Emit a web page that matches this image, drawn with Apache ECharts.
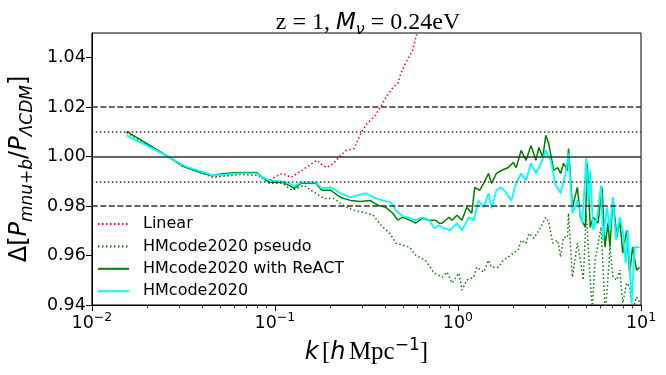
<!DOCTYPE html>
<html>
<head>
<meta charset="utf-8">
<script src="https://cdn.jsdelivr.net/npm/echarts@6/dist/echarts.min.js"></script>
<style>
  html, body { margin: 0; padding: 0; background: #fff; }
  #chart { width: 666px; height: 375px; }
</style>
</head>
<body>
<div id="chart"></div>
<script>
// k [h/Mpc], ratio
const linearK = [0.0155, 0.0260, 0.0317, 0.0392, 0.0460, 0.0644, 0.0795, 0.0856, 0.0934, 0.0994, 0.1097, 0.1227, 0.1324, 0.1535, 0.1695, 0.1804, 0.1919, 0.2093, 0.2283, 0.2459, 0.2716, 0.2784, 0.2962, 0.3153, 0.3527, 0.3752, 0.4042, 0.4407, 0.4690, 0.4867, 0.5179, 0.5649, 0.5937, 0.6087]
const linearV = [1.0098, 1.0001, 0.9960, 0.9936, 0.9916, 0.9928, 0.9924, 0.9912, 0.9904, 0.9916, 0.9932, 0.9916, 0.9932, 0.9964, 0.9985, 0.9968, 0.9956, 0.9973, 1.0005, 1.0025, 1.0033, 1.0053, 1.0098, 1.0130, 1.0166, 1.0198, 1.0239, 1.0279, 1.0295, 1.0335, 1.0380, 1.0428, 1.0493, 1.0530]

const pseudoK = [0.0155, 0.0260, 0.0317, 0.0392, 0.0460, 0.0644, 0.0795, 0.0856, 0.0934, 0.1097, 0.1243, 0.1442, 0.1633, 0.1849, 0.2093, 0.2369, 0.2683, 0.3038, 0.3440, 0.3894, 0.4248, 0.4575, 0.4990, 0.5442, 0.5864, 0.6639, 0.7427, 0.8199, 0.8723, 0.9283, 1.0125, 1.0509, 1.1182, 1.2197, 1.2660, 1.3809, 1.4694, 1.5251, 1.6636, 1.7703, 1.8835, 2.0044, 2.1325, 2.2131, 2.3552, 2.4444, 2.6013, 2.7677, 2.9085, 3.0190, 3.1334, 3.2929, 3.5042, 3.6372, 3.7750, 3.9673, 4.0169, 4.2218, 4.4918, 4.6620, 4.8389, 5.0228, 5.1490, 5.4108, 5.6161, 6.0484, 6.2004, 6.3592, 6.5189, 6.7660, 7.0224, 7.3806, 7.6564, 7.9481, 8.3562, 8.6701, 8.9989, 9.4570, 9.8155]
const pseudoV = [1.0098, 1.0001, 0.9960, 0.9936, 0.9920, 0.9932, 0.9932, 0.9912, 0.9892, 0.9892, 0.9864, 0.9884, 0.9856, 0.9831, 0.9831, 0.9803, 0.9783, 0.9775, 0.9763, 0.9714, 0.9690, 0.9650, 0.9642, 0.9634, 0.9602, 0.9581, 0.9529, 0.9513, 0.9533, 0.9489, 0.9529, 0.9460, 0.9501, 0.9513, 0.9553, 0.9533, 0.9581, 0.9553, 0.9553, 0.9581, 0.9594, 0.9610, 0.9622, 0.9662, 0.9650, 0.9690, 0.9670, 0.9702, 0.9731, 0.9755, 0.9735, 0.9650, 0.9662, 0.9594, 0.9674, 0.9674, 0.9771, 0.9513, 0.9650, 0.9581, 0.9501, 0.9771, 0.9634, 0.9380, 0.9581, 0.9714, 0.9553, 0.9380, 0.9448, 0.9634, 0.9513, 0.9501, 0.9541, 0.9408, 0.9489, 0.9473, 0.9380, 0.9432, 0.9412]

const reactK = [0.0155, 0.0260, 0.0317, 0.0392, 0.0460, 0.0521, 0.0644, 0.0795, 0.0856, 0.0934, 0.1097, 0.1197, 0.1274, 0.1390, 0.1497, 0.1674, 0.1804, 0.2016, 0.2283, 0.2585, 0.2926, 0.3314, 0.3660, 0.4042, 0.4407, 0.4690, 0.4990, 0.5442, 0.5864, 0.6396, 0.6977, 0.7519, 0.7903, 0.8199, 0.8942, 0.9283, 0.9877, 1.0509, 1.1182, 1.1898, 1.2349, 1.3140, 1.3809, 1.4694, 1.5251, 1.6229, 1.7268, 1.8835, 2.0044, 2.0802, 2.2131, 2.3552, 2.5059, 2.6666, 2.7677, 2.9085, 3.0190, 3.1334, 3.3340, 3.5042, 3.6372, 3.7750, 3.9673, 4.0169, 4.2218, 4.4918, 4.6620, 4.9609, 5.0855, 5.2780, 5.4783, 5.8295, 6.1239, 6.3592, 6.6003, 6.7660, 7.0224, 7.3806, 7.6564, 7.9481, 8.3562, 8.6701, 8.9989, 9.4570, 9.8155]
const reactV = [1.0102, 1.0001, 0.9960, 0.9936, 0.9924, 0.9932, 0.9936, 0.9936, 0.9916, 0.9896, 0.9896, 0.9884, 0.9872, 0.9892, 0.9892, 0.9892, 0.9864, 0.9864, 0.9835, 0.9823, 0.9819, 0.9823, 0.9803, 0.9795, 0.9771, 0.9743, 0.9755, 0.9743, 0.9731, 0.9751, 0.9743, 0.9743, 0.9731, 0.9731, 0.9755, 0.9743, 0.9763, 0.9743, 0.9795, 0.9771, 0.9876, 0.9864, 0.9892, 0.9932, 0.9892, 0.9932, 0.9944, 0.9956, 0.9977, 0.9956, 1.0025, 0.9985, 1.0045, 0.9985, 1.0037, 0.9997, 1.0086, 1.0053, 0.9944, 0.9956, 0.9932, 0.9973, 0.9944, 1.0033, 0.9795, 0.9876, 0.9755, 0.9714, 0.9973, 0.9714, 0.9755, 0.9731, 0.9876, 0.9634, 0.9731, 0.9634, 0.9835, 0.9674, 0.9743, 0.9610, 0.9702, 0.9529, 0.9634, 0.9541, 0.9553]

const hmK = [0.0155, 0.0260, 0.0317, 0.0392, 0.0460, 0.0644, 0.0795, 0.0856, 0.0934, 0.1097, 0.1197, 0.1274, 0.1390, 0.1497, 0.1674, 0.1804, 0.2016, 0.2283, 0.2585, 0.2854, 0.3153, 0.3571, 0.3894, 0.4301, 0.4575, 0.4990, 0.5442, 0.5864, 0.6396, 0.6977, 0.7427, 0.7903, 0.8199, 0.9057, 0.9877, 1.0509, 1.1464, 1.2197, 1.2978, 1.3809, 1.4694, 1.5251, 1.6229, 1.7268, 1.8374, 1.9552, 2.0802, 2.2131, 2.3552, 2.5059, 2.6666, 2.8374, 3.0190, 3.2122, 3.4181, 3.6372, 3.8699, 4.0169, 4.2218, 4.4918, 4.7792, 5.0228, 5.1490, 5.2780, 5.4783, 5.7577, 6.0484, 6.2004, 6.5189, 6.7660, 7.0224, 7.2895, 7.6564, 7.9481, 8.2531, 8.4606, 8.8879, 9.2250, 9.8155]
const hmV = [1.0086, 1.0001, 0.9964, 0.9940, 0.9924, 0.9932, 0.9932, 0.9916, 0.9904, 0.9900, 0.9892, 0.9880, 0.9896, 0.9896, 0.9896, 0.9872, 0.9876, 0.9852, 0.9835, 0.9844, 0.9852, 0.9831, 0.9823, 0.9815, 0.9783, 0.9759, 0.9751, 0.9743, 0.9755, 0.9743, 0.9710, 0.9723, 0.9714, 0.9702, 0.9731, 0.9702, 0.9755, 0.9743, 0.9823, 0.9795, 0.9852, 0.9791, 0.9864, 0.9876, 0.9852, 0.9823, 0.9892, 0.9932, 0.9904, 0.9973, 0.9932, 0.9973, 1.0025, 0.9985, 0.9884, 0.9852, 0.9932, 1.0013, 0.9771, 0.9823, 0.9731, 0.9993, 0.9811, 0.9944, 0.9702, 0.9755, 0.9884, 0.9662, 0.9795, 0.9702, 0.9835, 0.9662, 0.9755, 0.9702, 0.9569, 0.9702, 0.9408, 0.9634, 0.9634]

const yTicks = [0.94, 0.96, 0.98, 1.00, 1.02, 1.04]
const minorX = [0.02, 0.03, 0.04, 0.05, 0.06, 0.07, 0.08, 0.09, 0.2, 0.3, 0.4, 0.5, 0.6, 0.7, 0.8, 0.9, 2, 3, 4, 5, 6, 7, 8, 9]
const refLines = [
  { v: 1.02, type: [6, 2.5] },
  { v: 1.01, type: [1.5, 2.5] },
  { v: 1.00, type: 'solid' },
  { v: 0.99, type: [1.5, 2.5] },
  { v: 0.98, type: [6, 2.5] },
]

const zip = (ks, vs) => ks.map((k, i) => [k, vs[i]])
const sans = 'DejaVu Sans'
const serif = 'Liberation Serif'

const chart = echarts.init(document.getElementById('chart'), null, { renderer: 'canvas' })

const line = (name, ks, vs, color, type, width) => ({
  name,
  type: 'line',
  data: zip(ks, vs),
  showSymbol: false,
  symbol: 'none',
  clip: true,
  animation: false,
  lineStyle: { color, type, width, cap: 'butt' },
  itemStyle: { color },
})

const refSeries = {
  type: 'line',
  data: [],
  silent: true,
  animation: false,
  markLine: {
    silent: true,
    symbol: 'none',
    animation: false,
    label: { show: false },
    data: refLines.map((r) => ({
      yAxis: r.v,
      lineStyle: { color: '#333', type: r.type, width: 1.5 },
    })),
  },
}

const option = {
  backgroundColor: '#fff',
  animation: false,
  title: {
    text: '{r|z = 1, }{i|M}{s|ν}{r| = 0.24eV}',
    left: 363,
    textAlign: 'center',
    top: 3,
    textStyle: {
      fontWeight: 'normal',
      rich: {
        r: { fontFamily: serif, fontWeight: 'normal', fontSize: 24, color: '#000', lineHeight: 30 },
        i: { fontFamily: sans, fontWeight: 'normal', fontStyle: 'italic', fontSize: 23, color: '#000', lineHeight: 30 },
        s: { fontFamily: sans, fontWeight: 'normal', fontStyle: 'italic', fontSize: 16, color: '#000', verticalAlign: 'bottom', lineHeight: 22, padding: [8, 0, 0, 0] },
      },
    },
  },
  grid: { left: 85, right: 25, top: 33, bottom: 70, show: true, borderColor: '#000', borderWidth: 1, backgroundColor: 'transparent' },
  legend: {
    orient: 'vertical',
    left: 92,
    top: 211,
    itemWidth: 31,
    itemHeight: 14,
    itemGap: 6.4,
    itemStyle: { opacity: 0 },
    data: ['Linear', 'HMcode2020 pseudo', 'HMcode2020 with ReACT', 'HMcode2020'],
    textStyle: { fontFamily: sans, fontSize: 16, lineHeight: 16, color: '#000', padding: [0, 0, 0, 9] },
  },
  xAxis: [
    {
      type: 'log',
      logBase: 10,
      min: 0.01,
      max: 10,
      name: '{i|k} {r|[}{i|h} {r|Mpc}{sup|−1}{r|]}',
      nameLocation: 'middle',
      nameGap: 30,
      nameTextStyle: {
        rich: {
          i: { fontFamily: sans, fontStyle: 'italic', fontSize: 24, color: '#000', lineHeight: 32 },
          r: { fontFamily: serif, fontSize: 25, color: '#000', lineHeight: 32 },
          sup: { fontFamily: sans, fontSize: 17, color: '#000', verticalAlign: 'top', lineHeight: 20, padding: [0, 0, 8, 0] },
        },
      },
      axisLine: { show: true, lineStyle: { color: '#000', width: 1 } },
      axisTick: { show: true, length: 6, lineStyle: { color: '#000', width: 1 } },
      splitLine: { show: false },
      axisLabel: {
        margin: 6,
        formatter: (v) => '{b|10}{s|' + String(Math.round(Math.log10(v))).replace('-', '−') + '}',
        rich: {
          b: { fontFamily: sans, fontSize: 17.5, color: '#000', lineHeight: 24 },
          s: { fontFamily: sans, fontSize: 12.5, color: '#000', verticalAlign: 'top', lineHeight: 16 },
        },
      },
    },
    {
      type: 'log',
      logBase: 10,
      min: 0.01,
      max: 10,
      position: 'bottom',
      axisLine: { show: false },
      axisLabel: { show: false },
      splitLine: { show: false },
      axisTick: { show: true, length: 3.5, customValues: minorX, lineStyle: { color: '#000', width: 0.8 } },
    },
  ],
  yAxis: {
    type: 'value',
    min: 0.94,
    max: 1.05,
    interval: 0.02,
    name: '{r|Δ[}{i|P}{s|mnu+b}{r|/}{i|P}{s|ΛCDM}{r|]}',
    nameLocation: 'middle',
    nameRotate: 90,
    nameGap: 46,
    nameTextStyle: {
      rich: {
        r: { fontFamily: sans, fontSize: 24, color: '#000', lineHeight: 32 },
        i: { fontFamily: sans, fontStyle: 'italic', fontSize: 24, color: '#000', lineHeight: 32 },
        s: { fontFamily: sans, fontStyle: 'italic', fontSize: 17, color: '#000', verticalAlign: 'bottom', lineHeight: 20, padding: [9, 0, 0, 0] },
      },
    },
    axisLine: { show: true, lineStyle: { color: '#000', width: 1 } },
    axisTick: { show: true, length: 6, customValues: yTicks, lineStyle: { color: '#000', width: 1 } },
    splitLine: { show: false },
    axisLabel: {
      customValues: yTicks,
      margin: 6,
      fontFamily: sans,
      fontSize: 17.5,
      color: '#000',
      formatter: (v) => v.toFixed(2),
    },
  },
  series: [
    refSeries,
    line('Linear', linearK, linearV, '#ff0000', [1.5, 2.5], 1.5),
    line('HMcode2020 pseudo', pseudoK, pseudoV, '#008000', [1.5, 2.5], 1.5),
    line('HMcode2020 with ReACT', reactK, reactV, '#008000', 'solid', 1.5),
    line('HMcode2020', hmK, hmV, '#00ffff', 'solid', 1.8),
  ],
}

chart.setOption(option)
</script>
</body>
</html>
